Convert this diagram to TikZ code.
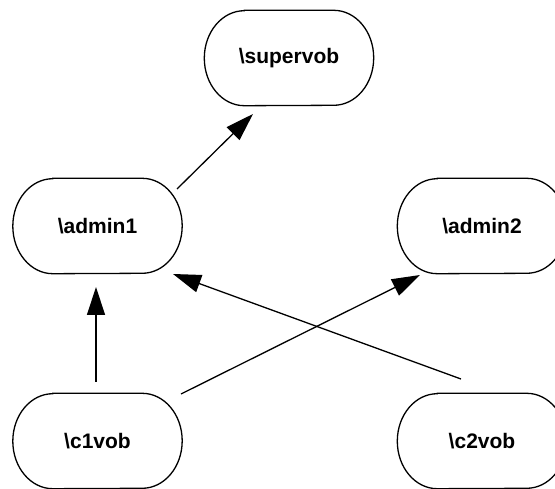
\documentclass[tikz,border=0pt]{standalone}
\usepackage{fontspec}
\setmainfont{Liberation Sans}
\usetikzlibrary{arrows.meta}
\begin{document}
\begin{tikzpicture}[x=1pt,y=1pt,
  vob/.style={rectangle, minimum width=169pt, minimum height=95pt, inner sep=0pt,
    font=\fontsize{21}{25}\selectfont\bfseries},
  outline/.style={draw=black, line width=1.3pt},
  arr/.style={line width=1.3pt, -{Triangle[length=28pt,width=18pt]}}]
\useasboundingbox (0,0) rectangle (555,-489);
\clip (0,0) rectangle (555,-489);
\node[vob] (super) at (289,-58) {\textbackslash supervob};
\node[vob] (admin1) at (97.5,-226) {\textbackslash admin1};
\node[vob] (admin2) at (482,-226) {\textbackslash admin2};
\node[vob] (c1) at (97.5,-441) {\textbackslash c1vob};
\node[vob] (c2) at (482,-441) {\textbackslash c2vob};
\foreach \n in {super,admin1,admin2,c1,c2}{
  \draw[outline] ([xshift=40pt]\n.north west) -- ([xshift=-40pt]\n.north east)
    arc[start angle=90,end angle=-90,x radius=40pt,y radius=47.5pt]
    -- ([xshift=40pt]\n.south west)
    arc[start angle=270,end angle=90,x radius=40pt,y radius=47.5pt] -- cycle;
}
\draw[arr] ([shift={(79.5,37)}]admin1.center) -- ([shift={(-36,-56)}]super.center);
\draw[arr] ([shift={(-1.5,59)}]c1.center) -- ([shift={(-1.5,-61)}]admin1.center);
\draw[arr] ([shift={(-21,62)}]c2.center) -- ([shift={(75.5,-48)}]admin1.center);
\draw[arr] ([shift={(83.5,47)}]c1.center) -- ([shift={(-62,-49)}]admin2.center);
\end{tikzpicture}
\end{document}
